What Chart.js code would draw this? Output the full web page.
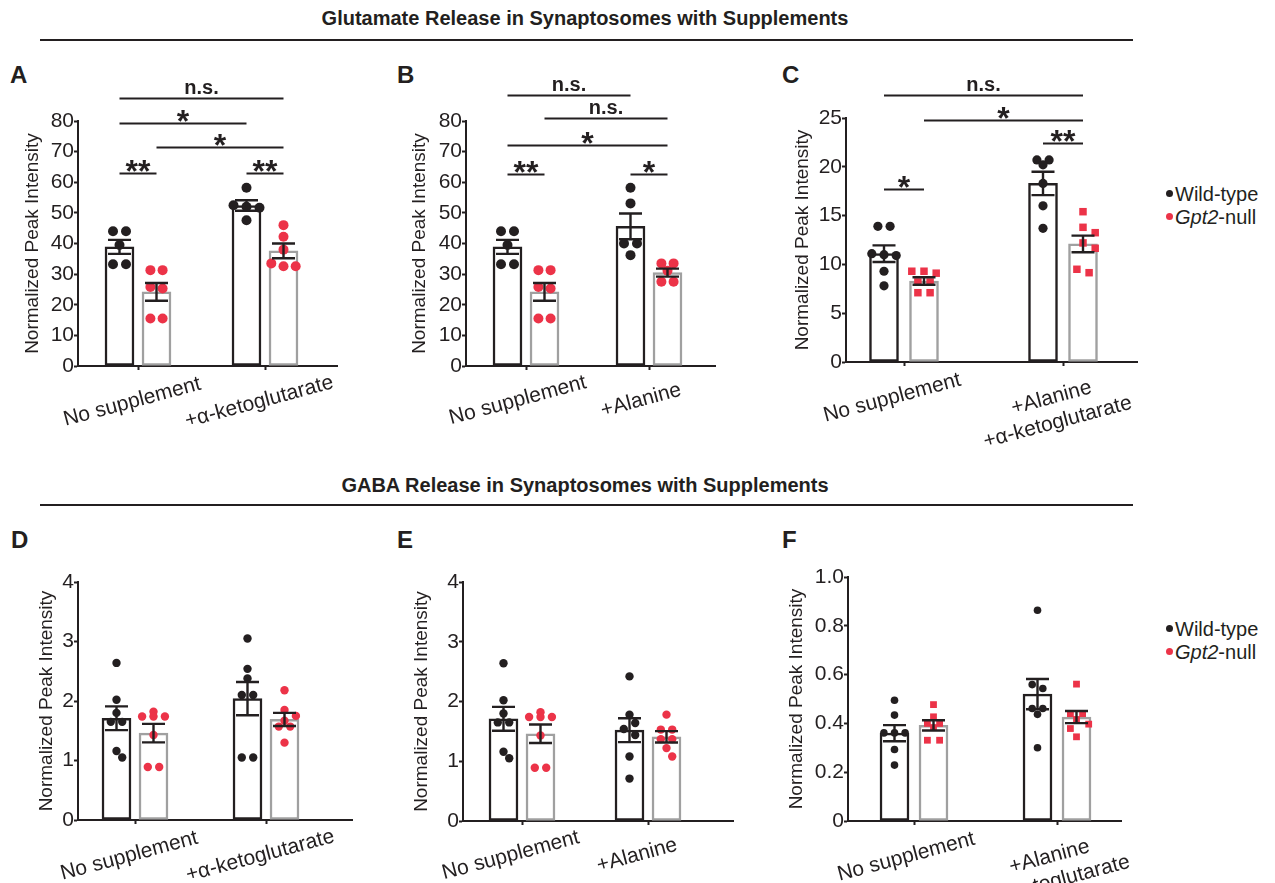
<!DOCTYPE html>
<html>
<head>
<meta charset="utf-8">
<title>Glutamate and GABA release in synaptosomes with supplements</title>
<script src="https://cdn.jsdelivr.net/npm/chart.js@4.4.1/dist/chart.umd.min.js"></script>
<style>
  body { margin: 0; background: #fff; font-family: "Liberation Sans", Arial, sans-serif; color: #231f20; }
  #page { position: relative; width: 1275px; height: 883px; overflow: hidden; }
  .box { position: absolute; }
  .head { position: absolute; left: 0; width: 1170px; text-align: center; font-weight: bold; font-size: 20px; line-height: 1; }
  .rule { position: absolute; left: 40px; width: 1093px; height: 2px; background: #231f20; }
  .tag { position: absolute; font-weight: bold; font-size: 24px; line-height: 1; }
  .key { position: absolute; left: 1166px; font-size: 20px; line-height: 23px; white-space: nowrap; }
  .key .dot { display: inline-block; width: 7px; height: 7px; border-radius: 50%; margin-right: 2px; vertical-align: 4px; }
</style>
</head>
<body>
<div id="page">
  <div class="head" style="top:8px">Glutamate Release in Synaptosomes with Supplements</div>
  <div class="rule" style="top:39px"></div>
  <div class="head" style="top:475px">GABA Release in Synaptosomes with Supplements</div>
  <div class="rule" style="top:504px"></div>

  <div class="tag" style="left:10px;top:63px">A</div>
  <div class="tag" style="left:397px;top:63px">B</div>
  <div class="tag" style="left:782px;top:63px">C</div>
  <div class="tag" style="left:11px;top:528px">D</div>
  <div class="tag" style="left:397px;top:528px">E</div>
  <div class="tag" style="left:782px;top:528px">F</div>

  <div class="key" style="top:183px"><span class="dot" style="background:#231f20"></span>Wild-type<br><span class="dot" style="background:#ec3348"></span><i>Gpt2</i>-null</div>
  <div class="key" style="top:618px"><span class="dot" style="background:#231f20"></span>Wild-type<br><span class="dot" style="background:#ec3348"></span><i>Gpt2</i>-null</div>

  <div class="box" id="boxA"><canvas id="chartA"></canvas></div>
  <div class="box" id="boxB"><canvas id="chartB"></canvas></div>
  <div class="box" id="boxC"><canvas id="chartC"></canvas></div>
  <div class="box" id="boxD"><canvas id="chartD"></canvas></div>
  <div class="box" id="boxE"><canvas id="chartE"></canvas></div>
  <div class="box" id="boxF"><canvas id="chartF"></canvas></div>
</div>
<script>
// ---- values ----
// bracket bar index: 0 = WT group 1, 1 = null group 1, 2 = WT group 2, 3 = null group 2

// A: glutamate, +α-ketoglutarate
const catsA = ['No supplement', '+α-ketoglutarate'];
const wtMeanA = [38.9, 52.4];
const wtSemA = [2.3, 1.7];
const nullMeanA = [24.2, 37.6];
const nullSemA = [2.9, 2.4];
const wtPtsA = [[44.0, 44.0, 39.5, 33.2, 33.2], [58.2, 52.5, 52.0, 51.7, 47.6]];
const nullPtsA = [[31.3, 31.3, 25.8, 25.3, 15.5, 15.5], [46.0, 42.2, 38.0, 33.5, 32.6, 32.6]];
const sigFromA = [0, 0, 1, 0, 2];
const sigToA = [3, 2, 3, 1, 3];
const sigLevelA = [87.5, 79.3, 71.5, 63.0, 63.0];
const sigTextA = ['n.s.', '*', '*', '**', '**'];

// B: glutamate, +Alanine
const catsB = ['No supplement', '+Alanine'];
const wtMeanB = [38.9, 45.6];
const wtSemB = [2.3, 4.2];
const nullMeanB = [24.2, 30.5];
const nullSemB = [2.9, 1.3];
const wtPtsB = [[44.0, 44.0, 39.5, 33.2, 33.2], [58.2, 53.1, 40.0, 40.0, 36.2]];
const nullPtsB = [[31.3, 31.3, 25.8, 25.3, 15.5, 15.5], [33.5, 33.5, 31.1, 27.5, 27.5]];
const sigFromB = [0, 1, 0, 0, 2];
const sigToB = [2, 3, 3, 1, 3];
const sigLevelB = [88.5, 81.0, 72.2, 62.7, 62.7];
const sigTextB = ['n.s.', 'n.s.', '*', '**', '*'];

// C: glutamate, +Alanine +α-ketoglutarate
const catsC = ['No supplement', ['+Alanine', '+α-ketoglutarate']];
const wtMeanC = [11.1, 18.3];
const wtSemC = [0.85, 1.2];
const nullMeanC = [8.3, 12.1];
const nullSemC = [0.38, 0.85];
const wtPtsC = [[13.9, 13.9, 11.1, 11.0, 10.9, 9.3, 7.8], [20.7, 20.7, 20.2, 18.3, 16.0, 13.7]];
const nullPtsC = [[9.3, 9.1, 9.3, 8.2, 8.2, 7.1, 7.1], [15.4, 13.8, 13.25, 12.2, 11.65, 9.5, 9.15]];
const sigFromC = [0, 1, 2, 0];
const sigToC = [3, 3, 3, 1];
const sigLevelC = [27.4, 24.8, 22.4, 17.7];
const sigTextC = ['n.s.', '*', '**', '*'];

// D: GABA, +α-ketoglutarate
const catsD = ['No supplement', '+α-ketoglutarate'];
const wtMeanD = [1.71, 2.04];
const wtSemD = [0.2, 0.28];
const nullMeanD = [1.46, 1.69];
const nullSemD = [0.155, 0.11];
const wtPtsD = [[2.64, 2.02, 1.80, 1.65, 1.65, 1.16, 1.05], [3.05, 2.54, 2.38, 2.10, 2.10, 1.05, 1.05]];
const nullPtsD = [[1.82, 1.74, 1.74, 1.74, 1.43, 0.89, 0.89], [2.18, 1.85, 1.75, 1.67, 1.57, 1.57, 1.30]];

// E: GABA, +Alanine
const catsE = ['No supplement', '+Alanine'];
const wtMeanE = [1.71, 1.52];
const wtSemE = [0.2, 0.2];
const nullMeanE = [1.46, 1.41];
const nullSemE = [0.155, 0.095];
const wtPtsE = [[2.64, 2.02, 1.80, 1.65, 1.65, 1.16, 1.05], [2.42, 1.78, 1.64, 1.54, 1.44, 1.08, 0.71]];
const nullPtsE = [[1.82, 1.74, 1.74, 1.74, 1.43, 0.89, 0.89], [1.78, 1.53, 1.53, 1.37, 1.37, 1.22, 1.08]];

// F: GABA, +Alanine +α-ketoglutarate
const catsF = ['No supplement', ['+Alanine', '+α-ketoglutarate']];
const wtMeanF = [0.36, 0.52];
const wtSemF = [0.033, 0.062];
const nullMeanF = [0.392, 0.426];
const nullSemF = [0.021, 0.025];
const wtPtsF = [[0.495, 0.434, 0.361, 0.361, 0.361, 0.293, 0.229], [0.864, 0.559, 0.543, 0.461, 0.461, 0.437, 0.300]];
const nullPtsF = [[0.477, 0.427, 0.40, 0.40, 0.383, 0.331, 0.331], [0.561, 0.44, 0.44, 0.416, 0.397, 0.379, 0.345]];

const yTitle = 'Normalized Peak Intensity';

// ---- styling ----
const FONT = '"Liberation Sans", Arial, sans-serif';
const INK = '#231f20';
const RED = '#ec3348';
const GREY = '#a0a0a0';
const TICK_SIZE = 21;

// where each panel sits on the page (px)
const layouts = {
  A: {box: [0, 75, 390, 380], left: 78, right: 337, top: 121, bottom: 366, tick0: 138, tick1: 265, chunk: 37, titleX: 33, labelOffset: 68, dot: 5, sq: 5},
  B: {box: [400, 75, 380, 380], left: 466, right: 715, top: 121, bottom: 366, tick0: 526, tick1: 649, chunk: 37, titleX: 420, labelOffset: 60, dot: 5, sq: 5},
  C: {box: [780, 75, 380, 380], left: 846, right: 1137, top: 118, bottom: 362, tick0: 904, tick1: 1063, chunk: 40, titleX: 803, labelOffset: 62, dot: 4.6, sq: 5.3},
  D: {box: [0, 545, 390, 338], left: 78, right: 352, top: 582, bottom: 820, tick0: 135, tick1: 266, chunk: 37, titleX: 47, labelOffset: 68, dot: 4.2, sq: 4.2},
  E: {box: [400, 545, 370, 338], left: 463, right: 733, top: 582, bottom: 821, tick0: 522, tick1: 648, chunk: 37, titleX: 422, labelOffset: 57, dot: 4.2, sq: 4.2},
  F: {box: [780, 545, 380, 338], left: 848, right: 1121, top: 577, bottom: 821, tick0: 914, tick1: 1057, chunk: 39, titleX: 797, labelOffset: 66, dot: 3.8, sq: 4.8}
};

const measure = document.createElement('canvas').getContext('2d');

// trailing no-break spaces so right-aligned rotated labels come out centred
function centreLabels(cats, font) {
  measure.font = font;
  const w = s => measure.measureText(s).width;
  const sp = w('\u00a0');
  const widest = Math.max(...cats.flatMap(c => [].concat(c)).map(w));
  return cats.map(c => {
    const lines = [].concat(c).map(s => s + '\u00a0'.repeat(Math.round((widest - w(s)) / 2 / sp)));
    return lines.length > 1 ? lines : lines[0];
  });
}

// row-wise beeswarm (pixel based): near-equal values sit side by side,
// a row is nudged sideways if it would overlap the points above it
function swarm(groups, shift, ppx, ppy, r) {
  const step = 2 * r + 3;
  const out = [];
  groups.forEach((vals, g) => {
    const rows = [];
    vals.slice().sort((a, b) => b - a).forEach(v => {
      const last = rows[rows.length - 1];
      if (last && (last[0] - v) * ppy <= 4) last.push(v); else rows.push([v]);
    });
    const placed = [];
    rows.forEach(row => {
      const offs = row.map((v, i) => (i - (row.length - 1) / 2) * step);
      const hits = o => row.some((v, i) => placed.some(p => Math.hypot(p.dx - offs[i] - o, p.py - v * ppy) < 2 * r));
      let o = 0;
      for (const c of [0, step / 2, -step / 2, step, -step]) { if (!hits(c)) { o = c; break; } }
      row.forEach((v, i) => {
        placed.push({dx: offs[i] + o, py: v * ppy});
        out.push({x: g + shift + (offs[i] + o) / ppx, y: v});
      });
    });
  });
  return out;
}

const errorBars = {
  id: 'errorBars',
  afterDatasetsDraw(chart) {
    const {ctx} = chart;
    const y = chart.scales.y;
    ctx.save();
    ctx.strokeStyle = INK;
    ctx.lineWidth = 2.4;
    chart.data.datasets.forEach((ds, i) => {
      if (!ds.sem) return;
      chart.getDatasetMeta(i).data.forEach((bar, j) => {
        const m = ds.data[j].y, s = ds.sem[j];
        const hi = y.getPixelForValue(m + s), lo = y.getPixelForValue(m - s);
        ctx.beginPath();
        ctx.moveTo(bar.x, hi); ctx.lineTo(bar.x, lo);
        ctx.moveTo(bar.x - 11.5, hi); ctx.lineTo(bar.x + 11.5, hi);
        ctx.moveTo(bar.x - 11.5, lo); ctx.lineTo(bar.x + 11.5, lo);
        ctx.stroke();
      });
    });
    ctx.restore();
  }
};

const brackets = {
  id: 'brackets',
  afterDraw(chart, args, opts) {
    if (!opts.text || !opts.text.length) return;
    const {ctx} = chart;
    const y = chart.scales.y;
    const barAt = k => chart.getDatasetMeta(k % 2).data[Math.floor(k / 2)];
    ctx.save();
    ctx.strokeStyle = INK;
    ctx.fillStyle = INK;
    ctx.lineWidth = 2;
    ctx.textAlign = 'center';
    ctx.textBaseline = 'alphabetic';
    opts.text.forEach((t, i) => {
      const x1 = barAt(opts.from[i]).x, x2 = barAt(opts.to[i]).x;
      const yy = Math.round(y.getPixelForValue(opts.level[i])) + 0.5;
      ctx.beginPath();
      ctx.moveTo(x1, yy); ctx.lineTo(x2, yy);
      ctx.stroke();
      const star = t.indexOf('*') >= 0;
      ctx.font = 'bold ' + (star ? 32 : 20) + 'px ' + FONT;
      ctx.fillText(t, (x1 + x2) / 2, star ? yy + 8 : yy - 5);
    });
    ctx.restore();
  }
};

function panel(key, d) {
  const L = layouts[key];
  const [bx, by, bw, bh] = L.box;
  const holder = document.getElementById('box' + key);
  Object.assign(holder.style, {left: bx + 'px', top: by + 'px', width: bw + 'px', height: bh + 'px'});

  const ppx = L.tick1 - L.tick0;
  const ppy = (L.bottom - L.top) / d.yMax;
  const off = L.chunk / 2 / ppx;
  const xMin = -(L.tick0 - L.left) / ppx;
  const xMax = 1 + (L.right - L.tick1) / ppx;
  const tickFont = {family: FONT, size: TICK_SIZE};
  const labels = centreLabels(d.cats, TICK_SIZE + 'px ' + FONT);
  const nullR = d.nullShape === 'rect' ? L.sq : L.dot;

  new Chart(document.getElementById('chart' + key), {
    type: 'bar',
    data: {
      datasets: [
        {label: 'Wild-type', data: d.wtMean.map((m, g) => ({x: g - off, y: m})), sem: d.wtSem,
         backgroundColor: '#fff', borderColor: INK, borderWidth: 2.5, order: 2},
        {label: 'Gpt2-null', data: d.nullMean.map((m, g) => ({x: g + off, y: m})), sem: d.nullSem,
         backgroundColor: '#fff', borderColor: GREY, borderWidth: 2.5, order: 2},
        {type: 'scatter', label: 'Wild-type points', data: swarm(d.wtPts, -off, ppx, ppy, L.dot),
         pointStyle: 'circle', pointRadius: L.dot, backgroundColor: INK, borderWidth: 0, order: 1},
        {type: 'scatter', label: 'Gpt2-null points', data: swarm(d.nullPts, off, ppx, ppy, Math.min(nullR, 4.6)),
         pointStyle: d.nullShape, pointRadius: nullR, backgroundColor: RED, borderWidth: 0, order: 1}
      ]
    },
    options: {
      responsive: true,
      maintainAspectRatio: false,
      animation: false,
      events: [],
      layout: {padding: {top: L.top - by, right: bx + bw - L.right, left: 0, bottom: 0}},
      datasets: {bar: {grouped: false, barThickness: 29, borderSkipped: false}},
      plugins: {
        legend: {display: false},
        tooltip: {enabled: false},
        brackets: {from: d.sigFrom || [], to: d.sigTo || [], level: d.sigLevel || [], text: d.sigText || []}
      },
      scales: {
        x: {
          type: 'linear', min: xMin, max: xMax, offset: false,
          afterBuildTicks: s => { s.ticks = [{value: 0}, {value: 1}]; },
          afterFit: s => { s.height = by + bh - L.bottom; s.paddingLeft = 0; s.paddingRight = 0; },
          border: {color: INK, width: 2},
          grid: {display: true, offset: false, drawOnChartArea: false, tickLength: 4, tickWidth: 2, tickColor: INK},
          ticks: {autoSkip: false, minRotation: 15, maxRotation: 15, padding: 0, labelOffset: L.labelOffset,
                  color: INK, font: tickFont, callback: v => labels[v]}
        },
        y: {
          min: 0, max: d.yMax,
          afterFit: s => { s.width = L.left - bx; s.paddingTop = 0; s.paddingBottom = 0; },
          border: {color: INK, width: 2},
          grid: {display: true, drawOnChartArea: false, tickLength: 4, tickWidth: 2, tickColor: INK},
          ticks: {stepSize: d.yStep, padding: 0, color: INK, font: tickFont,
                  callback: v => (v === 0 ? '0' : v.toFixed(d.yStep < 1 ? 1 : 0))},
          title: {display: true, text: yTitle, color: INK, font: {family: FONT, size: 19},
                  padding: {top: L.titleX - bx - 11.4, bottom: 0}}
        }
      }
    },
    plugins: [errorBars, brackets]
  });
}

panel('A', {cats: catsA, wtMean: wtMeanA, wtSem: wtSemA, nullMean: nullMeanA, nullSem: nullSemA,
            wtPts: wtPtsA, nullPts: nullPtsA, nullShape: 'circle', yMax: 80, yStep: 10,
            sigFrom: sigFromA, sigTo: sigToA, sigLevel: sigLevelA, sigText: sigTextA});
panel('B', {cats: catsB, wtMean: wtMeanB, wtSem: wtSemB, nullMean: nullMeanB, nullSem: nullSemB,
            wtPts: wtPtsB, nullPts: nullPtsB, nullShape: 'circle', yMax: 80, yStep: 10,
            sigFrom: sigFromB, sigTo: sigToB, sigLevel: sigLevelB, sigText: sigTextB});
panel('C', {cats: catsC, wtMean: wtMeanC, wtSem: wtSemC, nullMean: nullMeanC, nullSem: nullSemC,
            wtPts: wtPtsC, nullPts: nullPtsC, nullShape: 'rect', yMax: 25, yStep: 5,
            sigFrom: sigFromC, sigTo: sigToC, sigLevel: sigLevelC, sigText: sigTextC});
panel('D', {cats: catsD, wtMean: wtMeanD, wtSem: wtSemD, nullMean: nullMeanD, nullSem: nullSemD,
            wtPts: wtPtsD, nullPts: nullPtsD, nullShape: 'circle', yMax: 4, yStep: 1});
panel('E', {cats: catsE, wtMean: wtMeanE, wtSem: wtSemE, nullMean: nullMeanE, nullSem: nullSemE,
            wtPts: wtPtsE, nullPts: nullPtsE, nullShape: 'circle', yMax: 4, yStep: 1});
panel('F', {cats: catsF, wtMean: wtMeanF, wtSem: wtSemF, nullMean: nullMeanF, nullSem: nullSemF,
            wtPts: wtPtsF, nullPts: nullPtsF, nullShape: 'rect', yMax: 1, yStep: 0.2});
</script>
</body>
</html>
